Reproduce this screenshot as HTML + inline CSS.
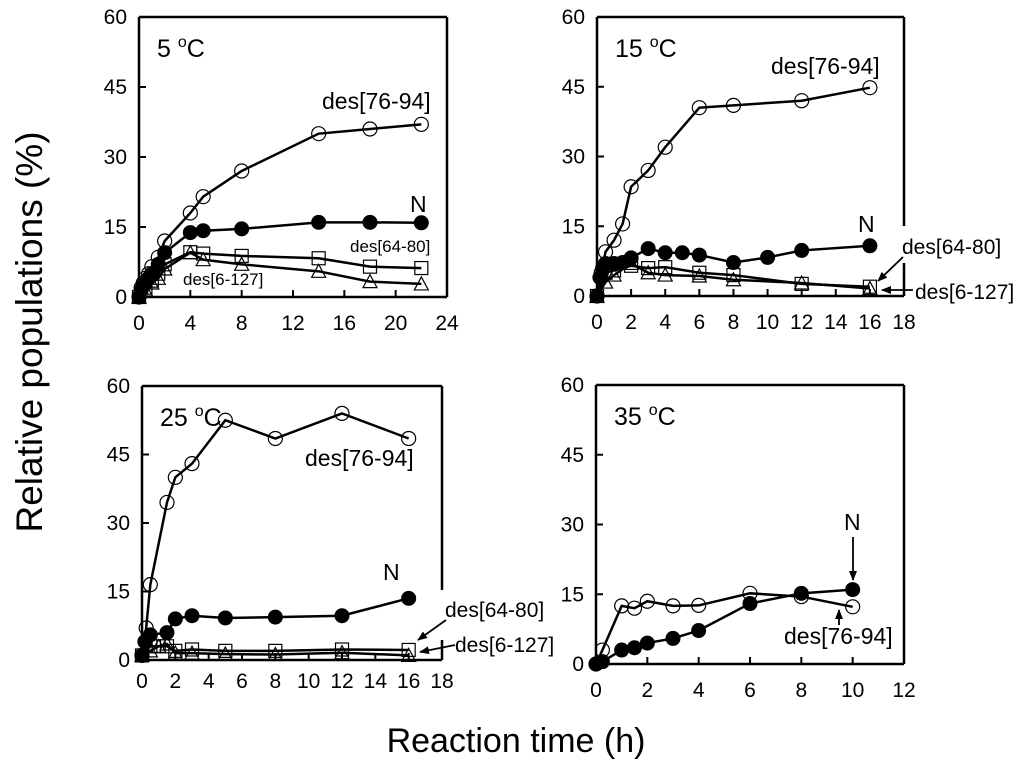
<!DOCTYPE html>
<html><head><meta charset="utf-8"><style>
html,body{margin:0;padding:0;background:#fff;}
svg{display:block;font-family:"Liberation Sans",Arial,sans-serif;}
</style></head><body>
<svg id="fig" width="1024" height="769" viewBox="0 0 1024 769" xmlns="http://www.w3.org/2000/svg">
<defs><marker id="ah" markerWidth="10" markerHeight="8" refX="9" refY="4" orient="auto" markerUnits="userSpaceOnUse"><path d="M0,0 L10,4 L0,8 z" fill="#000"/></marker></defs>
<text x="42" y="332" font-size="37" text-anchor="middle" transform="rotate(-90 42 332)">Relative populations (%)</text>
<text x="516" y="752" font-size="34" text-anchor="middle">Reaction time (h)</text>
</svg>
<script>
// Panel 5 C
const p1Time = [0,0.17,0.33,0.5,0.75,1,1.5,2,4,5,8,14,18,22];
const p1D7694 = [0,2,3,4,5,6.5,8.5,12,18,21.5,27,35,36,37];
const p1N = [0,1.5,2.5,3,4,5,7,9.5,13.8,14.2,14.6,16,16,15.9];
const p1TimeB = [0,0.5,1,1.5,2,4,5,8,14,18,22];
const p1D6480 = [0,2,3.5,5,7,9.6,9.3,8.8,8.3,6.5,6.2];
const p1D6127 = [0,1.5,3,4,6,9.5,8,7,5.5,3.3,2.8];
const p1XTicks = [0,4,8,12,16,20,24];
// Panel 15 C
const p2TimeA = [0,0.25,0.5,1,1.5,2,3,4,6,8,12,16];
const p2D7694 = [0,5,9.5,12,15.5,23.5,27,32,40.5,41,42,44.8];
const p2TimeN = [0,0.17,0.33,0.5,1,1.5,2,3,4,5,6,8,10,12,16];
const p2N = [0,4,6,7,7,7.2,8.2,10.2,9.3,9.3,8.8,7.2,8.3,9.8,10.8];
const p2TimeB = [0,0.5,1,2,3,4,6,8,12,16];
const p2D6480 = [0,5,5.5,6.5,6,6.2,5,4.5,2.6,2];
const p2D6127 = [0,3,4.5,7,5,4.5,4.3,3.5,2.8,1.6];
const p2XTicks = [0,2,4,6,8,10,12,14,16,18];
// Panel 25 C
const p3TimeA = [0,0.25,0.5,1.5,2,3,5,8,12,16];
const p3D7694 = [1,7,16.5,34.5,40,43,52.5,48.5,54,48.5];
const p3TimeN = [0,0.17,0.5,1.5,2,3,5,8,12,16];
const p3N = [1,4,5.5,6,9,9.7,9.2,9.4,9.7,13.5];
const p3TimeB = [0,0.5,1,1.5,2,3,5,8,12,16];
const p3D6480 = [1,3,3,3,2,2.3,2,2,2.3,2.2];
const p3D6127 = [1,2,3,3.5,1.5,1.5,1.3,1.2,1.6,1];
const p3XTicks = [0,2,4,6,8,10,12,14,16,18];
// Panel 35 C
const p4Time = [0,0.25,1,1.5,2,3,4,6,8,10];
const p4D7694 = [0,3,12.5,12,13.5,12.5,12.6,15.2,14.5,12.3];
const p4N = [0,0.5,3,3.5,4.5,5.5,7.2,13,15.2,16];
const p4XTicks = [0,2,4,6,8,10,12];
const yTicks = [0,15,30,45,60];

const NS='http://www.w3.org/2000/svg';
const svg=document.getElementById('fig');
function mk(tag,attrs,parent){const e=document.createElementNS(NS,tag);for(const k in attrs)e.setAttribute(k,attrs[k]);(parent||svg).appendChild(e);return e;}

function panel(cfg){
  const g=mk('g',{});
  
  
  const xs=v=>cfg.x0+(v-0)/(cfg.xmax)*(cfg.x1-cfg.x0);
  const ys=v=>cfg.y1-(v/60)*(cfg.y1-cfg.y0);
  mk('line',{x1:cfg.x0,y1:cfg.y0,x2:cfg.x0,y2:cfg.y1,stroke:'#000','stroke-width':2.5},g);
  mk('line',{x1:cfg.x0,y1:cfg.y1,x2:cfg.x1,y2:cfg.y1,stroke:'#000','stroke-width':2.5},g);
  mk('line',{x1:cfg.x0,y1:cfg.y0,x2:cfg.x1,y2:cfg.y0,stroke:'#000','stroke-width':2.5},g);
  if(cfg.gap){
    mk('line',{x1:cfg.x1,y1:cfg.y0,x2:cfg.x1,y2:cfg.gap[0],stroke:'#000','stroke-width':2.5},g);
    mk('line',{x1:cfg.x1,y1:cfg.gap[1],x2:cfg.x1,y2:cfg.y1,stroke:'#000','stroke-width':2.5},g);
  } else mk('line',{x1:cfg.x1,y1:cfg.y0,x2:cfg.x1,y2:cfg.y1,stroke:'#000','stroke-width':2.5},g);
  const lo=cfg.xlabOff||33;
  cfg.xticks.forEach(t=>{
    const x=xs(t);
    if(t>0&&t<cfg.xmax) mk('line',{x1:x,y1:cfg.y1,x2:x,y2:cfg.y1-7,stroke:'#000','stroke-width':2},g);
    const tx=mk('text',{x:x,y:cfg.y1+lo,'font-size':21,'text-anchor':'middle'},g);
    
    
    tx.textContent=t;
  });
  yTicks.forEach(t=>{
    const y=ys(t);
    if(t>0&&t<60) mk('line',{x1:cfg.x0,y1:y,x2:cfg.x0+7,y2:y,stroke:'#000','stroke-width':2},g);
    const tx=mk('text',{x:cfg.x0-12,y:y+7,'font-size':21,'text-anchor':'end'},g);
    
    
    tx.textContent=t;
  });
  const tl=mk('text',{x:cfg.x0+18,y:cfg.y0+40,'font-size':25},g);
  
  
  tl.innerHTML=cfg.temp+' <tspan font-size="16" dy="-10">o</tspan><tspan dy="10">C</tspan>';
  cfg.series.forEach(s=>{
    const sg=mk('g',{},g);
    
    
    const pts=s.t.map((t,i)=>xs(t)+','+ys(s.v[i])).join(' ');
    mk('polyline',{points:pts,fill:'none',stroke:'#000','stroke-width':2.5},sg);
    s.t.forEach((t,i)=>{
      const x=xs(t),y=ys(s.v[i]);let m;
      if(s.m==='oc') m=mk('circle',{cx:x,cy:y,r:7,fill:'none',stroke:'#000','stroke-width':1.2},sg);
      else if(s.m==='fc') m=mk('circle',{cx:x,cy:y,r:7.5,fill:'#000'},sg);
      else if(s.m==='sq') m=mk('rect',{x:x-6.5,y:y-6.5,width:13,height:13,fill:'none',stroke:'#000','stroke-width':1.2},sg);
      else m=mk('polygon',{points:`${x},${y-7} ${x-7},${y+6} ${x+7},${y+6}`,fill:'none',stroke:'#000','stroke-width':1.2},sg);
      
      
    });
  });
  (cfg.labels||[]).forEach(l=>{
    const t=mk('text',{x:l[1],y:l[2],'font-size':l[3]},g);
    
    
    t.textContent=l[0];
  });
  (cfg.arrows||[]).forEach(a=>{
    const ar=mk('line',{x1:a[0],y1:a[1],x2:a[2],y2:a[3],stroke:'#000','stroke-width':1.8,'marker-end':'url(#ah)'},g);
    
    
  });
}

panel({name:'panel-5c',temp:'5',x0:139,x1:447,y0:17,y1:297,xmax:24,xticks:p1XTicks,
 series:[{name:'series-des76-94',m:'oc',t:p1Time,v:p1D7694},{name:'series-n',m:'fc',t:p1Time,v:p1N},
 {name:'series-des64-80',m:'sq',t:p1TimeB,v:p1D6480},{name:'series-des6-127',m:'tr',t:p1TimeB,v:p1D6127}],
 labels:[['des[76-94]',322,109,23],['N',410,212,23],['des[64-80]',350,252,17],['des[6-127]',183,285,17]]});
panel({name:'panel-15c',temp:'15',x0:597,x1:904,y0:17,y1:296,xmax:18,xticks:p2XTicks,gap:[226,263],
 series:[{name:'series-des76-94',m:'oc',t:p2TimeA,v:p2D7694},{name:'series-n',m:'fc',t:p2TimeN,v:p2N},
 {name:'series-des64-80',m:'sq',t:p2TimeB,v:p2D6480},{name:'series-des6-127',m:'tr',t:p2TimeB,v:p2D6127}],
 labels:[['des[76-94]',771,74,23],['N',858,232,23],['des[64-80]',902,254,21],['des[6-127]',915,299,21]],
 arrows:[[903,257,878,281],[913,290,882,290]]});
panel({name:'panel-25c',temp:'25',x0:142,x1:442,y0:386,y1:660,xmax:18,xticks:p3XTicks,gap:[590,640],xlabOff:28,
 series:[{name:'series-des76-94',m:'oc',t:p3TimeA,v:p3D7694},{name:'series-n',m:'fc',t:p3TimeN,v:p3N},
 {name:'series-des64-80',m:'sq',t:p3TimeB,v:p3D6480},{name:'series-des6-127',m:'tr',t:p3TimeB,v:p3D6127}],
 labels:[['des[76-94]',305,466,23],['N',383,580,23],['des[64-80]',445,617,21],['des[6-127]',455,652,21]],
 arrows:[[446,620,418,640],[455,645,420,652]]});
panel({name:'panel-35c',temp:'35',x0:596,x1:904,y0:385,y1:664,xmax:12,xticks:p4XTicks,
 series:[{name:'series-des76-94',m:'oc',t:p4Time,v:p4D7694},{name:'series-n',m:'fc',t:p4Time,v:p4N}],
 labels:[['N',844,530,23],['des[76-94]',784,644,23]],
 arrows:[[853,537,853,580],[839,625,839,610]]});
</script>
</body></html>
